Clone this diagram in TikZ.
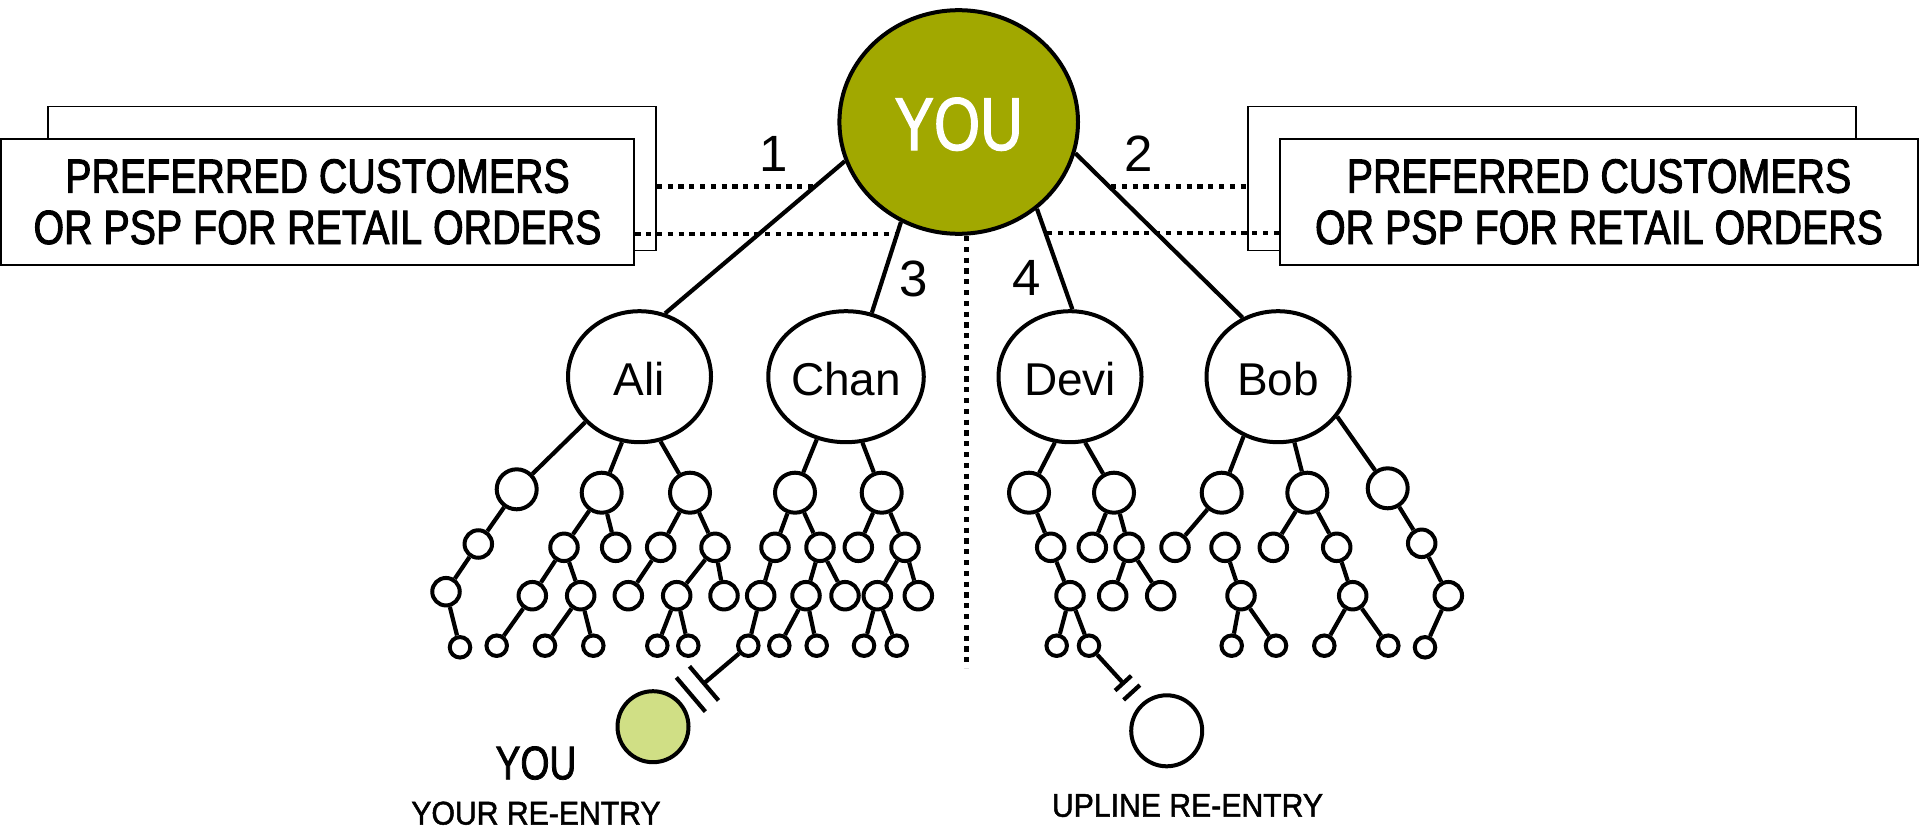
\documentclass[tikz,border=0pt]{standalone}
\usepackage{fontspec}
\setmainfont{Liberation Sans}
\newfontfamily\boxfont[FakeStretch=0.82,FakeBold=2.0]{Liberation Sans}
\newfontfamily\youfont[FakeStretch=0.79,FakeBold=1.6]{Liberation Sans}
\newfontfamily\labfont[FakeStretch=0.92,FakeBold=1.5]{Liberation Sans}
\usetikzlibrary{calc,shapes.geometric}
\definecolor{youolive}{RGB}{161,168,0}
\definecolor{reentry}{RGB}{208,223,133}

\begin{document}
\begin{tikzpicture}[x=0.5pt,y=-0.5pt,
  edge/.style={line width=2.1pt},
  dotline/.style={line width=2.4pt, dash pattern=on 2.6pt off 2.8pt},
  backbox/.style={draw, line width=0.8pt, fill=white, minimum width=304pt, minimum height=72pt, inner sep=0pt},
  frontbox/.style={draw, line width=1.3pt, fill=white, minimum height=63pt, inner sep=0pt},
  boxtext/.style={anchor=base, inner sep=0pt, font=\boxfont\fontsize{24pt}{24pt}\selectfont},
  member/.style={ellipse, draw, line width=2pt, minimum width=71.5pt, minimum height=65.5pt, inner sep=0pt,
    text height=19pt, text depth=0pt, font=\fontsize{23pt}{23pt}\selectfont},
  digit/.style={inner sep=0pt, text height=18.25pt, text depth=0pt, font=\fontsize{25.5pt}{25.5pt}\selectfont},
  lone/.style={circle, draw, line width=2pt, minimum size=20pt, inner sep=0pt},
  ltwo/.style={circle, draw, line width=2pt, minimum size=13.75pt, inner sep=0pt},
  lfour/.style={circle, draw, line width=2pt, minimum size=10.25pt, inner sep=0pt},
  reent/.style={circle, draw, line width=2pt, minimum size=35.5pt, inner sep=0pt},
  caption/.style={anchor=base, inner sep=0pt}]

\useasboundingbox (0,0) rectangle (1921,830);

% side boxes
\node[backbox] (lback) at (352,178.5) {};
\node[frontbox, minimum width=316.5pt] (lfront) at (317.5,202) {};
\node[boxtext] (lt1) at (317.5,192.7) {PREFERRED CUSTOMERS};
\node[boxtext] (lt2) at (317.5,244) {OR PSP FOR RETAIL ORDERS};

\node[backbox] (rback) at (1552,178.5) {};
\node[frontbox, minimum width=319pt] (rfront) at (1599,202) {};
\node[boxtext] (rt1) at (1599,192.7) {PREFERRED CUSTOMERS};
\node[boxtext] (rt2) at (1599,244) {OR PSP FOR RETAIL ORDERS};

% top member
\node[ellipse, draw, line width=2pt, fill=youolive, minimum width=119.3pt, minimum height=111.8pt,
  inner sep=0pt, text=white, text height=28pt, text depth=0pt,
  font=\youfont\fontsize{37.5pt}{37.5pt}\selectfont] (you) at (958.7,122) {YOU};

% first line
\node[member] (ali)  at (639.5,376.7) {Ali};
\node[member] (chan) at (846,376.7) {Chan};
\node[member] (devi) at (1070,376.7) {Devi};
\node[member] (bob)  at (1278,376.7) {Bob};

% leg numbers
\node[digit] (n1) at (774,153) {1};
\node[digit] (n2) at (1138.3,153.3) {2};
\node[digit] (n3) at (914,278.3) {3};
\node[digit] (n4) at (1026.3,277.5) {4};

% downline circles
\foreach \n/\x/\y in {a1/516.7/489.3, a2/601.7/492.7, a3/690/492.7, c1/795/492.7, c2/881.7/492.7,
  d1/1029/492.7, d2/1114/492.7, b1/1221.7/492.7, b2/1307.3/492.7, b3/1387.7/488.3}
  \node[lone] (\n) at (\x,\y) {};

\foreach \n/\x/\y in {a1a/478.3/544, a2a/564/547.3, a2b/615.7/547.3, a3a/660.7/547.3, a3b/715/547.3,
  c1a/775/547.3, c1b/820/547.3, c2a/858.3/547.3, c2b/905/547.3, d1a/1050.7/547.3, d2a/1092.3/547.3,
  d2b/1129/547.3, b1a/1175/547.3, bx/1225/547.3, b2a/1273.3/547.3, b2b/1336.7/547.3, b3a/1421.7/543.3,
  a1a1/446/591.7, a2a1/532.3/595.7, a2a2/580.7/595.7, a3a1/628.3/595.7, a3b1/676.7/595.7, a3b2/724/595.7,
  c1a1/760.7/595.7, c1b1/806/595.7, c1b2/845/595.7, c2b1/877.3/595.7, c2b2/918.3/595.7,
  d1a1/1070/595.7, d2b1/1112.7/595.7, d2b2/1160.7/595.7, bx1/1241/595.7, b2b1/1352.7/595.7, b3a1/1448.3/595.7}
  \node[ltwo] (\n) at (\x,\y) {};

\foreach \n/\x/\y in {a1a1a/460/647.3, a2a1a/496.7/645.7, a2a2a/545/645.7, a2a2b/593.3/645.7,
  a3b1a/657.3/645.7, a3b1b/688.3/645.7, c1a1a/748.3/645.7, c1b1a/779.3/645.7, c1b1b/816.7/645.7,
  c2b1a/864/645.7, c2b1b/896.7/645.7, d1a1a/1056.7/645.7, d1a1b/1089/645.7, bx1a/1231.7/645.7,
  bx1b/1276/645.7, b2b1a/1324.3/645.7, b2b1b/1388.3/645.7, b3a1a/1425/647.3}
  \node[lfour] (\n) at (\x,\y) {};

% re-entry positions
\node[reent, fill=reentry] (ryou) at (653,726.7) {};
\node[reent] (rup) at (1166.7,730.8) {};
\node[caption, font=\youfont\fontsize{23.6pt}{23.6pt}\selectfont] (youlbl) at (536,779.3) {YOU};
\node[caption, font=\labfont\fontsize{16.4pt}{16.4pt}\selectfont] (yourre) at (536,824.5) {YOUR RE-ENTRY};
\node[caption, font=\labfont\fontsize{16.4pt}{16.4pt}\selectfont] (uplre) at (1187.5,816.7) {UPLINE RE-ENTRY};

% dotted links to the customer boxes and the centre divider
\coordinate (lu) at (815,186.5);
\coordinate (ll) at (898,234);
\coordinate (ru) at (1111,186.5);
\coordinate (rl) at (1047,233);
\coordinate (vtop) at (966.7,236);
\coordinate (vbot) at (966.7,668);
\draw[dotline] (lback.east |- lu) -- (lu);
\draw[dotline] (lfront.east |- ll) -- (ll);
\draw[dotline] (ru) -- (rback.west |- ru);
\draw[dotline] (rl) -- (rfront.west |- rl);
\draw[dotline] (vtop) -- (vbot);

% legs from the top member
\draw[edge] (you.199.3) -- (ali.68.8);
\draw[edge] (you.240.6) -- (chan.68.7);
\draw[edge] (you.312.7) -- (devi.88);
\draw[edge] (you.345.9) -- (bob.121);

% first line to their downlines
\draw[edge] (ali.220.7) -- (a1);
\draw[edge] (ali.255.4) -- (a2);
\draw[edge] (ali.288.4) -- (a3);
\draw[edge] (chan.245.7) -- (c1);
\draw[edge] (chan.284.2) -- (c2);
\draw[edge] (devi.257.6) -- (d1);
\draw[edge] (devi.283.7) -- (d2);
\draw[edge] (bob.240.6) -- (b1);
\draw[edge] (bob.284) -- (b2);
\draw[edge] (bob.326.3) -- (b3);

\foreach \p/\c in {a1/a1a, a1a/a1a1, a1a1/a1a1a,
  a2/a2a, a2/a2b, a2a/a2a1, a2a/a2a2, a2a1/a2a1a, a2a2/a2a2a, a2a2/a2a2b,
  a3/a3a, a3/a3b, a3a/a3a1, a3b/a3b1, a3b/a3b2, a3b1/a3b1a, a3b1/a3b1b,
  c1/c1a, c1/c1b, c1a/c1a1, c1b/c1b1, c1b/c1b2, c1a1/c1a1a, c1b1/c1b1a, c1b1/c1b1b,
  c2/c2a, c2/c2b, c2b/c2b1, c2b/c2b2, c2b1/c2b1a, c2b1/c2b1b,
  d1/d1a, d1a/d1a1, d1a1/d1a1a, d1a1/d1a1b,
  d2/d2a, d2/d2b, d2b/d2b1, d2b/d2b2,
  b1/b1a, bx/bx1, bx1/bx1a, bx1/bx1b,
  b2/b2a, b2/b2b, b2b/b2b1, b2b1/b2b1a, b2b1/b2b1b,
  b3/b3a, b3a/b3a1, b3a1/b3a1a}
  \draw[edge] (\p) -- (\c);

% broken links to the re-entry positions
\coordinate (lm1) at ($(c1a1a)!0.465!(ryou)$);
\coordinate (lm2) at ($(c1a1a)!0.603!(ryou)$);
\draw[edge] (c1a1a) -- (lm1);
\draw[edge] ($(lm1)!11.2pt!90:(ryou)$) -- ($(lm1)!11.2pt!-90:(ryou)$);
\draw[edge] ($(lm2)!11.2pt!90:(ryou)$) -- ($(lm2)!11.2pt!-90:(ryou)$);

\coordinate (rm1) at ($(d1a1b)!0.44!(rup)$);
\coordinate (rm2) at ($(d1a1b)!0.55!(rup)$);
\draw[edge] (d1a1b) -- (rm1);
\draw[edge] ($(rm1)!5.5pt!90:(rup)$) -- ($(rm1)!5.5pt!-90:(rup)$);
\draw[edge] ($(rm2)!5.5pt!90:(rup)$) -- ($(rm2)!5.5pt!-90:(rup)$);

\end{tikzpicture}
\end{document}
